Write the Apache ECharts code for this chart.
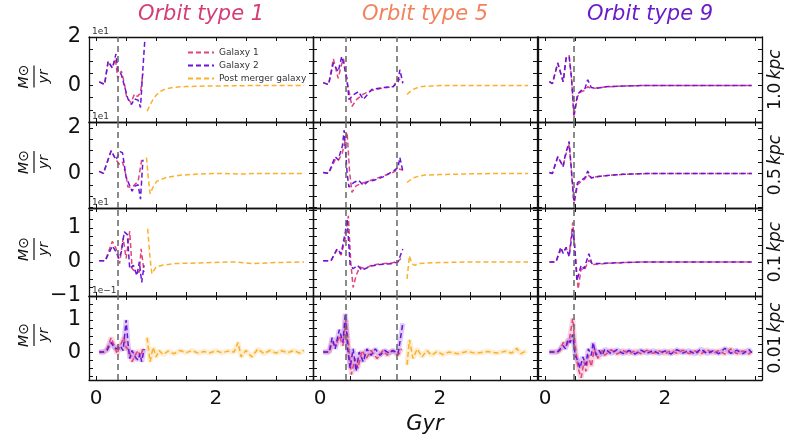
<!DOCTYPE html>
<html><head><meta charset="utf-8">
<script src="https://cdn.jsdelivr.net/npm/echarts@6/dist/echarts.min.js"></script>
<style>html,body{margin:0;padding:0;background:#fff}#c{width:788px;height:446px}</style>
</head><body><div id="c"></div>
<script>
// ---- labels ----
const colTitles = ['Orbit type 1', 'Orbit type 5', 'Orbit type 9'];
const rowLabels = ['1.0', '0.5', '0.1', '0.01'];
const offsetLabels = ['1e1', '1e1', '1e1', '1e\u22121'];
const seriesNames = ['Galaxy 1', 'Galaxy 2', 'Post merger galaxy'];
const xTickLabels = [0, 2];
const xMinorTicks = [0, 0.5, 1, 1.5, 2, 2.5, 3, 3.5];
const yRanges = [[-1.5, 2.0], [-1.52, 2.26], [-1.0, 1.58], [-0.87, 1.75]];
const yTickLabels = [[0, 2], [0, 2], [-1, 0, 1], [0, 1]];
const yMinorTicks = [
  [-1.5, -1, -0.5, 0, 0.5, 1, 1.5, 2],
  [-1.5, -1, -0.5, 0, 0.5, 1, 1.5, 2],
  [-0.75, -0.5, -0.25, 0, 0.25, 0.5, 0.75, 1, 1.25, 1.5],
  [-0.75, -0.5, -0.25, 0, 0.25, 0.5, 0.75, 1, 1.25, 1.5]
];
const mergerLines = [[0.36], [0.43, 1.27], [0.47]];

// ---- data: [Gyr, value] ; column 1 (Orbit type 1) ----
const c1r1_g1 = [[0.05,0.15],[0.14,0.05],[0.2,1.0],[0.27,0.72],[0.32,1.1],[0.36,0.3],[0.42,0.6],[0.47,0.1],[0.51,-0.5],[0.58,-0.7],[0.64,-0.35],[0.69,-0.45],[0.74,-0.3],[0.78,0.5]];
const c1r1_g2 = [[0.05,0.15],[0.14,0.05],[0.2,1.0],[0.27,0.72],[0.33,1.3],[0.36,0.65],[0.42,0.45],[0.47,0.0],[0.53,-0.55],[0.59,-0.78],[0.64,-0.55],[0.7,-0.6],[0.74,-0.9],[0.78,0.7],[0.81,1.8]];
const c1r1_pm = [[0.85,-1.05],[0.9,-0.8],[0.95,-0.57],[1.0,-0.4],[1.07,-0.24],[1.15,-0.15],[1.29,-0.07],[1.5,-0.04],[1.8,-0.02],[2.2,-0.01],[2.6,0],[3.0,0],[3.47,0]];
const c1r2_g1 = [[0.05,0.09],[0.12,0],[0.25,1.0],[0.33,0.6],[0.39,0.39],[0.44,0.5],[0.5,-0.1],[0.53,-0.6],[0.6,-0.6],[0.66,-0.45],[0.7,-0.35],[0.76,0.6]];
const c1r2_g2 = [[0.05,0.09],[0.12,0],[0.25,1.0],[0.33,0.6],[0.4,0.96],[0.44,0.9],[0.5,-0.17],[0.6,-0.78],[0.64,-0.57],[0.7,-0.5],[0.74,-1.13],[0.78,0.6]];
const c1r2_pm = [[0.84,0.7],[0.87,-0.2],[0.9,-0.9],[0.95,-0.6],[1.01,-0.35],[1.1,-0.25],[1.18,-0.17],[1.4,-0.08],[1.7,-0.03],[2.0,0],[2.5,-0.03],[2.6,0],[3.47,0]];
const c1r3_g1 = [[0.05,0.03],[0.15,0.03],[0.27,0.6],[0.33,0.4],[0.39,-0.05],[0.45,0.7],[0.5,0.1],[0.56,0.9],[0.6,-0.2],[0.66,-0.3],[0.72,-0.3],[0.75,0.38],[0.8,-0.3]];
const c1r3_g2 = [[0.05,0.03],[0.15,0.03],[0.27,0.47],[0.33,0.3],[0.38,0.1],[0.42,0.3],[0.47,0.88],[0.52,0.8],[0.56,-0.2],[0.62,-0.1],[0.68,-0.4],[0.72,0],[0.76,-0.6],[0.8,-0.1]];
const c1r3_pm = [[0.86,0.97],[0.9,0.1],[0.93,-0.35],[1.0,-0.15],[1.1,-0.1],[1.3,-0.05],[1.7,-0.03],[2.3,0],[2.6,-0.05],[3.0,-0.02],[3.47,0]];
const c1r4_g1 = [[0.05,0],[0.12,0],[0.18,0.1],[0.25,0.45],[0.3,0.2],[0.35,-0.05],[0.4,0.2],[0.46,0.45],[0.5,0.15],[0.55,0.05],[0.6,-0.3],[0.65,-0.1],[0.7,0.05],[0.74,-0.15],[0.78,0.1]];
const c1r4_g2 = [[0.05,0],[0.12,0],[0.18,0.05],[0.25,0.3],[0.3,0.15],[0.34,0.1],[0.4,0.2],[0.45,0.05],[0.5,1.0],[0.53,0.3],[0.56,-0.2],[0.6,0.05],[0.65,-0.15],[0.7,-0.25],[0.73,-0.05],[0.76,-0.3],[0.8,0.1]];
const c1r4_pm = [[0.85,0.45],[0.9,-0.3],[0.95,0.15],[1.0,-0.15],[1.05,0.05],[1.12,-0.08],[1.2,0.03],[1.3,-0.05],[1.4,0.05],[1.5,-0.02],[1.6,0.05],[1.7,-0.03],[1.8,0.02],[1.9,-0.02],[2.0,0.04],[2.1,-0.02],[2.2,0.03],[2.3,0.0],[2.37,0.3],[2.42,-0.15],[2.5,0.05],[2.6,-0.15],[2.7,0.1],[2.8,-0.05],[2.9,0.05],[3.0,-0.03],[3.1,0.04],[3.2,-0.02],[3.3,0.05],[3.4,-0.03],[3.47,0.06]];

// ---- column 2 (Orbit type 5) ----
const c2r1_g1 = [[0.05,0.12],[0.14,0.04],[0.22,1.1],[0.3,0.3],[0.36,0.9],[0.39,1.1],[0.45,0.1],[0.5,-0.45],[0.53,-0.86],[0.61,-0.57],[0.72,-0.35],[0.86,-0.2],[1.05,-0.1],[1.22,-0.05],[1.3,0.3],[1.38,0.1]];
const c2r1_g2 = [[0.05,0.12],[0.14,0.04],[0.22,0.93],[0.3,0.57],[0.36,1.2],[0.39,0.92],[0.45,0.25],[0.48,-0.57],[0.56,-0.37],[0.64,-0.25],[0.72,-0.57],[0.86,-0.16],[1.05,-0.08],[1.22,-0.04],[1.3,0.16],[1.33,0.65],[1.38,0.1]];
const c2r1_pm = [[1.45,-0.37],[1.5,-0.25],[1.55,-0.16],[1.62,-0.09],[1.7,-0.04],[1.85,-0.02],[2.0,0],[3.47,0]];
const c2r2_g1 = [[0.05,0.04],[0.14,0],[0.25,0.6],[0.3,0.55],[0.37,0.9],[0.42,1.5],[0.45,1.8],[0.49,0.1],[0.53,-0.83],[0.6,-0.55],[0.68,-0.45],[0.8,-0.35],[0.9,-0.25],[1.05,-0.12],[1.22,0.05],[1.3,0.2],[1.38,0.15]];
const c2r2_g2 = [[0.05,0.04],[0.14,0],[0.25,0.74],[0.3,0.6],[0.37,1.2],[0.4,1.9],[0.45,0],[0.48,-0.6],[0.56,-0.4],[0.64,-0.3],[0.72,-0.52],[0.8,-0.35],[0.9,-0.3],[1.05,-0.15],[1.22,0.1],[1.3,0.26],[1.33,0.7],[1.38,0.1]];
const c2r2_pm = [[1.45,-0.4],[1.5,-0.3],[1.55,-0.2],[1.65,-0.12],[1.75,-0.07],[2.0,-0.05],[2.5,-0.02],[3.0,0],[3.47,0]];
const c2r3_g1 = [[0.05,0.03],[0.18,0.03],[0.28,0.35],[0.35,0.2],[0.42,0.7],[0.47,1.35],[0.51,0.0],[0.55,-0.75],[0.6,-0.4],[0.66,-0.15],[0.75,-0.2],[0.85,-0.1],[1.0,-0.06],[1.2,-0.03],[1.3,0.02],[1.35,0.1]];
const c2r3_g2 = [[0.05,0.03],[0.18,0.03],[0.28,0.38],[0.35,0.24],[0.42,0.88],[0.45,1.26],[0.5,-0.1],[0.55,-0.2],[0.62,-0.1],[0.7,-0.25],[0.75,-0.2],[0.85,-0.12],[1.0,-0.08],[1.2,-0.05],[1.3,0.0],[1.38,0.38]];
const c2r3_pm = [[1.45,-0.5],[1.49,0.18],[1.53,-0.05],[1.58,-0.1],[1.65,-0.05],[1.8,-0.03],[2.0,-0.02],[2.5,0],[3.47,0]];
const c2r4_g1 = [[0.05,0],[0.15,0],[0.2,0.3],[0.26,0.2],[0.32,0.5],[0.38,0.2],[0.43,1.0],[0.47,0.3],[0.52,-0.7],[0.58,-0.2],[0.63,-0.5],[0.7,0.05],[0.77,-0.2],[0.85,0.05],[0.95,-0.2],[1.05,0.05],[1.12,-0.1],[1.2,0.05],[1.3,-0.1],[1.36,0.1]];
const c2r4_g2 = [[0.05,0],[0.15,0],[0.2,0.45],[0.25,0.1],[0.32,0.7],[0.38,0.3],[0.42,1.2],[0.46,0.1],[0.5,-0.5],[0.55,0.1],[0.6,-0.6],[0.65,0.0],[0.72,-0.3],[0.78,0.1],[0.85,-0.1],[0.92,0.1],[1.0,-0.1],[1.08,0.05],[1.15,-0.03],[1.22,0.05],[1.3,-0.05],[1.38,0.9]];
const c2r4_pm = [[1.45,-0.4],[1.49,0.38],[1.55,-0.2],[1.62,0.1],[1.7,-0.15],[1.78,0.05],[1.86,-0.1],[1.95,0.02],[2.05,-0.08],[2.15,0.0],[2.3,-0.05],[2.45,0.02],[2.6,-0.04],[2.8,0.02],[2.95,-0.03],[3.1,0.03],[3.2,-0.03],[3.28,0.12],[3.35,-0.05],[3.45,0.05]];

// ---- column 3 (Orbit type 9) ----
const c3r1_g1 = [[0.07,0.16],[0.12,0.08],[0.21,0.93],[0.3,0.16],[0.35,1.14],[0.4,1.25],[0.44,0.3],[0.48,-1.3],[0.54,-0.45],[0.6,-0.25],[0.66,-0.2],[0.71,-0.05],[0.77,-0.12],[0.85,-0.1],[1.0,-0.06],[1.3,-0.02],[1.6,0],[3.45,0]];
const c3r1_g2 = [[0.07,0.16],[0.12,0.08],[0.21,0.93],[0.3,0.16],[0.35,1.14],[0.4,1.2],[0.44,0.3],[0.48,-1.2],[0.54,-0.37],[0.6,-0.2],[0.66,-0.15],[0.71,0.24],[0.77,-0.08],[0.85,-0.12],[1.0,-0.05],[1.3,-0.02],[1.6,0],[3.45,0]];
const c3r1_pm = [];
const c3r2_g1 = [[0.07,0.04],[0.12,0.0],[0.21,0.7],[0.27,0.45],[0.3,0.3],[0.33,0.7],[0.4,1.3],[0.43,0.4],[0.48,-1.4],[0.54,-0.5],[0.6,-0.35],[0.66,-0.25],[0.71,-0.05],[0.77,-0.2],[0.85,-0.15],[1.0,-0.1],[1.3,-0.04],[1.6,-0.01],[2.0,0],[3.45,0]];
const c3r2_g2 = [[0.07,0.04],[0.12,0.0],[0.21,0.74],[0.27,0.45],[0.3,0.3],[0.33,0.74],[0.4,1.4],[0.43,0.4],[0.48,-1.26],[0.54,-0.4],[0.6,-0.3],[0.66,-0.2],[0.71,0.1],[0.77,-0.2],[0.85,-0.15],[1.0,-0.1],[1.3,-0.04],[1.6,-0.01],[2.0,0],[3.45,0]];
const c3r2_pm = [];
const c3r3_g1 = [[0.07,0],[0.18,0],[0.26,0.35],[0.3,0.3],[0.35,0.4],[0.4,0.2],[0.46,1.16],[0.5,0.3],[0.55,-0.8],[0.6,-0.2],[0.65,-0.25],[0.73,0.05],[0.8,-0.08],[1.0,-0.05],[1.3,-0.02],[1.7,0],[3.45,0]];
const c3r3_g2 = [[0.07,0],[0.18,0],[0.26,0.43],[0.3,0.25],[0.35,0.43],[0.4,0.15],[0.46,0.97],[0.49,0.5],[0.53,-0.55],[0.6,-0.1],[0.65,-0.2],[0.73,0.24],[0.78,-0.05],[0.85,-0.05],[1.0,-0.04],[1.3,-0.02],[1.7,0],[3.45,0]];
const c3r3_pm = [];
const c3r4_g1 = [[0.07,0],[0.2,0],[0.25,0.05],[0.3,0.3],[0.35,0.2],[0.4,0.35],[0.46,1.05],[0.5,0.2],[0.55,-0.5],[0.6,-0.8],[0.65,-0.3],[0.68,-0.6],[0.72,-0.1],[0.77,-0.45],[0.82,0.1],[0.88,-0.2],[0.95,0.05],[1.0,-0.1],[1.1,0.08],[1.2,-0.06],[1.3,0.05],[1.4,-0.05],[1.5,0.04],[1.6,-0.05],[1.7,0.06],[1.8,-0.04],[1.9,0.04],[2.0,-0.05],[2.1,0.05],[2.2,-0.04],[2.3,0.06],[2.4,-0.05],[2.5,0.04],[2.6,-0.06],[2.7,0.08],[2.8,-0.04],[2.9,0.05],[3.0,-0.06],[3.1,0.1],[3.2,-0.05],[3.3,0.04],[3.4,-0.06],[3.45,0.02]];
const c3r4_g2 = [[0.07,0],[0.2,0],[0.25,0.1],[0.3,0.2],[0.34,0.1],[0.38,0.4],[0.42,0.3],[0.46,0.55],[0.5,-0.1],[0.55,-0.3],[0.58,-0.5],[0.63,-0.15],[0.68,-0.4],[0.72,0.1],[0.77,-0.1],[0.8,0.3],[0.85,-0.1],[0.9,0.05],[0.95,-0.1],[1.0,0.1],[1.1,-0.05],[1.2,0.08],[1.3,-0.05],[1.4,0.05],[1.5,-0.06],[1.6,0.06],[1.7,-0.04],[1.8,0.05],[1.9,-0.05],[2.0,0.04],[2.1,-0.06],[2.2,0.08],[2.3,-0.03],[2.4,0.05],[2.5,-0.06],[2.6,0.1],[2.7,-0.05],[2.8,0.04],[2.9,-0.05],[3.0,0.12],[3.1,-0.04],[3.2,0.06],[3.3,-0.05],[3.4,0.08],[3.45,-0.02]];
const c3r4_pm = [];

const panels = [
  [[c1r1_g1,c1r1_g2,c1r1_pm],[c2r1_g1,c2r1_g2,c2r1_pm],[c3r1_g1,c3r1_g2,c3r1_pm]],
  [[c1r2_g1,c1r2_g2,c1r2_pm],[c2r2_g1,c2r2_g2,c2r2_pm],[c3r2_g1,c3r2_g2,c3r2_pm]],
  [[c1r3_g1,c1r3_g2,c1r3_pm],[c2r3_g1,c2r3_g2,c2r3_pm],[c3r3_g1,c3r3_g2,c3r3_pm]],
  [[c1r4_g1,c1r4_g2,c1r4_pm],[c2r4_g1,c2r4_g2,c2r4_pm],[c3r4_g1,c3r4_g2,c3r4_pm]]
];

// ---- style / layout ----
const FONT = 'DejaVu Sans';
const colors = ['#e0457b', '#6a14d8', '#fbb02c'];
const titleColors = ['#d43d76', '#f2825c', '#6a1cc9'];
const colLeft = [89, 313, 538], colW = 224;
const rowTop = [37, 122, 208, 296], rowH = [85, 86, 88, 84];

const grids = [], xAxes = [], yAxes = [], series = [];
const axisLine = {show: true, onZero: false, lineStyle: {color: '#111', width: 1.3}};
let gi = 0;
for (let r = 0; r < 4; r++) {
  for (let c = 0; c < 3; c++) {
    grids.push({left: colLeft[c], top: rowTop[r], width: colW, height: rowH[r], containLabel: false});
    const xb = xAxes.length;
    xAxes.push({type: 'value', gridIndex: gi, position: 'bottom', min: -0.12, max: 3.62,
      axisLine, splitLine: {show: false},
      axisTick: {show: true, inside: true, length: 4, customValues: xMinorTicks, lineStyle: {color: '#111'}},
      axisLabel: {show: r === 3, customValues: xTickLabels, fontSize: 20, color: '#111', fontFamily: FONT, margin: 9}});
    xAxes.push({type: 'value', gridIndex: gi, position: 'top', min: -0.12, max: 3.62,
      axisLine, splitLine: {show: false},
      axisTick: {show: true, inside: true, length: 4, customValues: xMinorTicks, lineStyle: {color: '#111'}},
      axisLabel: {show: false}});
    const yb = yAxes.length;
    yAxes.push({type: 'value', gridIndex: gi, position: 'left', min: yRanges[r][0], max: yRanges[r][1],
      axisLine, splitLine: {show: false},
      axisTick: {show: true, inside: true, length: 4, customValues: yMinorTicks[r], lineStyle: {color: '#111'}},
      axisLabel: {show: c === 0, customValues: yTickLabels[r], fontSize: 21, color: '#111', fontFamily: FONT, margin: 8,
        formatter: v => (v < 0 ? '\u2212' + (-v) : '' + v)}});
    yAxes.push({type: 'value', gridIndex: gi, position: 'right', min: yRanges[r][0], max: yRanges[r][1],
      axisLine, splitLine: {show: false},
      axisTick: {show: true, inside: true, length: 4, customValues: yMinorTicks[r], lineStyle: {color: '#111'}},
      axisLabel: {show: false}});
    const sets = panels[r][c];
    for (let k = 0; k < 3; k++) {
      if (!sets[k].length) continue;
      if (r === 3) {
        series.push({type: 'line', name: 'band', xAxisIndex: xb, yAxisIndex: yb, data: sets[k], symbol: 'none',
          silent: true, lineStyle: {color: colors[k], width: 5, opacity: 0.22}, z: 1});
      }
      const s = {type: 'line', name: seriesNames[k], xAxisIndex: xb, yAxisIndex: yb, data: sets[k], symbol: 'none',
        lineStyle: {color: colors[k], width: 1.5, type: [5, 3]}, itemStyle: {color: colors[k]}, z: 2 + k};
      if (k === 1) {
        s.markLine = {silent: true, symbol: 'none', label: {show: false},
          lineStyle: {color: '#666', type: [6, 4], width: 1.5},
          data: mergerLines[c].map(v => ({xAxis: v}))};
      }
      series.push(s);
    }
    gi++;
  }
}

// ---- text ----
const graphic = [];
colTitles.forEach((t, c) => graphic.push({type: 'text', x: colLeft[c] + colW / 2, y: 15,
  style: {text: t, fill: titleColors[c], font: 'italic 21px ' + FONT, textAlign: 'center', textVerticalAlign: 'middle'}}));
rowLabels.forEach((t, r) => {
  graphic.push({type: 'text', x: 776, y: rowTop[r] + rowH[r] / 2, rotation: Math.PI / 2,
    style: {text: '{n|' + t + '} {k|kpc}', textAlign: 'center', textVerticalAlign: 'middle',
      rich: {n: {fontSize: 17, fontFamily: FONT, fill: '#111'}, k: {fontSize: 17, fontFamily: FONT, fontStyle: 'italic', fill: '#111'}}}});
  graphic.push({type: 'group', x: 38, y: rowTop[r] + rowH[r] / 2 - 3, rotation: Math.PI / 2, children: [
    {type: 'text', x: 0, y: -7, style: {text: 'M\u2299', font: 'italic 14px ' + FONT, fill: '#111', textAlign: 'center', textVerticalAlign: 'bottom'}},
    {type: 'line', shape: {x1: -11, y1: -4, x2: 11, y2: -4}, style: {stroke: '#111', lineWidth: 1.2}},
    {type: 'text', x: 0, y: -1, style: {text: 'yr', font: 'italic 14px ' + FONT, fill: '#111', textAlign: 'center', textVerticalAlign: 'top'}}
  ]});
  graphic.push({type: 'text', x: colLeft[0] + 3, y: rowTop[r] - 1,
    style: {text: offsetLabels[r], font: '9px ' + FONT, fill: '#333', textVerticalAlign: 'bottom'}});
});
graphic.push({type: 'text', x: 425, y: 425, style: {text: 'Gyr', font: 'italic 21px ' + FONT, fill: '#111', textAlign: 'center', textVerticalAlign: 'middle'}});

const chart = echarts.init(document.getElementById('c'), null, {renderer: 'canvas'});
chart.setOption({
  animation: false,
  backgroundColor: '#fff',
  grid: grids, xAxis: xAxes, yAxis: yAxes, series,
  legend: {data: seriesNames, left: 182, top: 43, orient: 'vertical', itemWidth: 26, itemHeight: 8, itemGap: 4,
    itemStyle: {opacity: 0}, textStyle: {fontSize: 9, color: '#333', fontFamily: FONT}, selectedMode: false},
  graphic
});
</script></body></html>
